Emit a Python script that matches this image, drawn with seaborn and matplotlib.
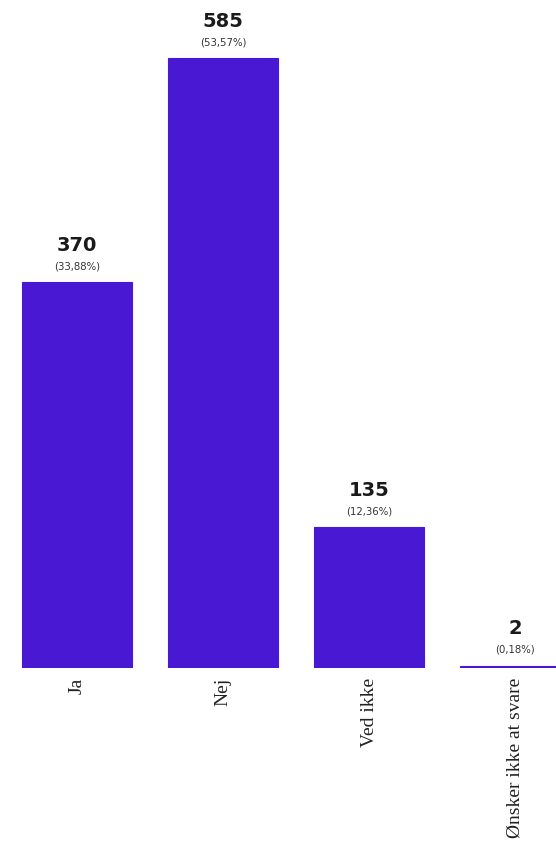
import pandas as pd
import seaborn as sns
import matplotlib.pyplot as plt

# data
kategorier = ['Ja', 'Nej', 'Ved ikke', 'Ønsker ikke at svare']
antal = [370, 585, 135, 2]
procent = ['(33,88%)', '(53,57%)', '(12,36%)', '(0,18%)']

df = pd.DataFrame({'svar': kategorier, 'antal': antal})

sns.set_theme(style='white')
plt.rcParams['font.family'] = ['DejaVu Sans']

farve = '#4918d2'

fig = plt.figure(figsize=(5.56, 8.44), dpi=100)
ax = fig.add_axes([0, 0.2085, 1, 0.7915])

sns.barplot(data=df, x='svar', y='antal', color=farve, saturation=1,
            width=0.75, edgecolor=farve, linewidth=0.8, ax=ax)

ax.set_xlim(-0.527, 3.28)
ax.set_ylim(0, 640.6)

# værdier over søjlerne
for i, (n, p) in enumerate(zip(antal, procent)):
    ax.annotate(str(n), (i, n), xytext=(0, 26.6), textcoords='offset points',
                ha='center', va='center', fontsize=14, fontweight='bold',
                color='#1a1a1a')
    ax.annotate(p, (i, n), xytext=(0, 11.5), textcoords='offset points',
                ha='center', va='center', fontsize=7.3, color='#333333')

ax.set_xlabel('')
ax.set_ylabel('')
ax.set_yticks([])
ax.tick_params(axis='x', length=0, pad=7)
for lbl in ax.get_xticklabels():
    lbl.set_rotation(90)
    lbl.set_fontfamily('Liberation Serif')
    lbl.set_fontsize(14)
    lbl.set_color('#222222')
    lbl.set_va('top')
for s in ax.spines.values():
    s.set_visible(False)

fig.savefig('out.png', dpi=100, facecolor='white')
